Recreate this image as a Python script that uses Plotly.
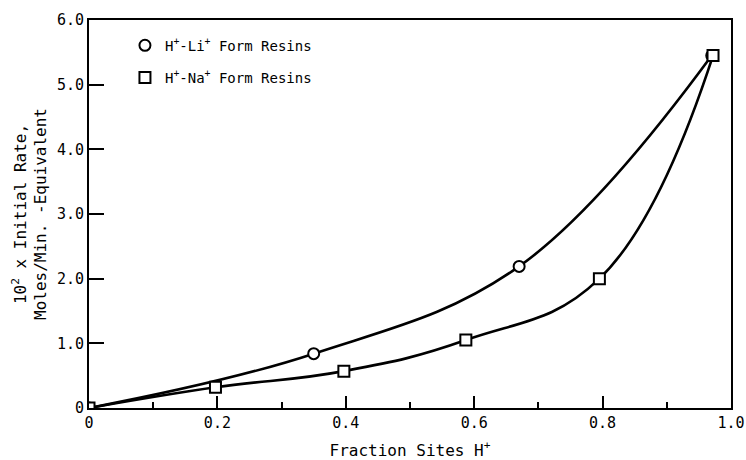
import plotly.graph_objects as go

# Data
li_x = [0.0, 0.35, 0.67, 0.97]
li_y = [0.0, 0.84, 2.19, 5.45]
na_x = [0.0, 0.197, 0.397, 0.587, 0.795, 0.972]
na_y = [0.0, 0.32, 0.57, 1.05, 2.0, 5.45]

x_tickvals = [0, 0.2, 0.4, 0.6, 0.8, 1.0]
x_ticktext = ["0", "0.2", "0.4", "0.6", "0.8", "1.0"]
y_tickvals = [0, 1, 2, 3, 4, 5, 6]
y_ticktext = ["0", "1.0", "2.0", "3.0", "4.0", "5.0", "6.0"]

li_name = "H<sup>+</sup>-Li<sup>+</sup> Form Resins"
na_name = "H<sup>+</sup>-Na<sup>+</sup> Form Resins"
x_title = "Fraction Sites H<sup>+</sup>"
y_title = "10<sup>2</sup> x Initial Rate,<br>Moles/Min. -Equivalent"

FONT = "DejaVu Sans Mono"

fig = go.Figure()
# smooth curves
fig.add_trace(go.Scatter(x=li_x, y=li_y, mode="lines", line=dict(color="black", width=2.6, shape="spline", smoothing=1.1),
                         showlegend=False, hoverinfo="skip"))
fig.add_trace(go.Scatter(x=na_x, y=na_y, mode="lines", line=dict(color="black", width=2.6, shape="spline", smoothing=1.2),
                         showlegend=False, hoverinfo="skip"))
# markers
fig.add_trace(go.Scatter(x=li_x, y=li_y, mode="markers", name=li_name, legendgroup="a",
                         marker=dict(symbol="circle", size=11, color="white", line=dict(color="black", width=2))))
fig.add_trace(go.Scatter(x=na_x, y=na_y, mode="markers", name=na_name, legendgroup="b",
                         marker=dict(symbol="square", size=11, color="white", line=dict(color="black", width=2))))

fig.update_layout(
    width=746, height=460,
    margin=dict(l=89, r=15, t=20, b=52, autoexpand=False),
    paper_bgcolor="white", plot_bgcolor="white",
    font=dict(family=FONT, color="black", size=14),
    legend=dict(x=0.056, y=0.975, xanchor="left", yanchor="top", bgcolor="rgba(0,0,0,0)",
                font=dict(family=FONT, size=14), tracegroupgap=11, traceorder="grouped", itemwidth=30),
    showlegend=True,
)
fig.update_xaxes(
    range=[0, 1.0], tickvals=x_tickvals, ticktext=x_ticktext, automargin=False,
    ticks="inside", ticklen=12, tickwidth=2, tickcolor="black",
    minor=dict(ticks="inside", ticklen=6, tickwidth=2, tickcolor="black", dtick=0.1, showgrid=False),
    showline=True, linecolor="black", linewidth=2, mirror=True, showgrid=False, zeroline=False,
    tickfont=dict(family=FONT, size=15),
    title=dict(text=x_title, font=dict(family=FONT, size=16), standoff=14),
)
fig.update_yaxes(
    range=[0, 6.0], tickvals=y_tickvals, ticktext=y_ticktext, automargin=False,
    ticks="inside", ticklen=15, tickwidth=2, tickcolor="black",
    showline=True, linecolor="black", linewidth=2, mirror=True, showgrid=False, zeroline=False,
    tickfont=dict(family=FONT, size=15),
    title=dict(text=y_title, font=dict(family=FONT, size=16), standoff=6),
)

fig.write_html("out.html")
